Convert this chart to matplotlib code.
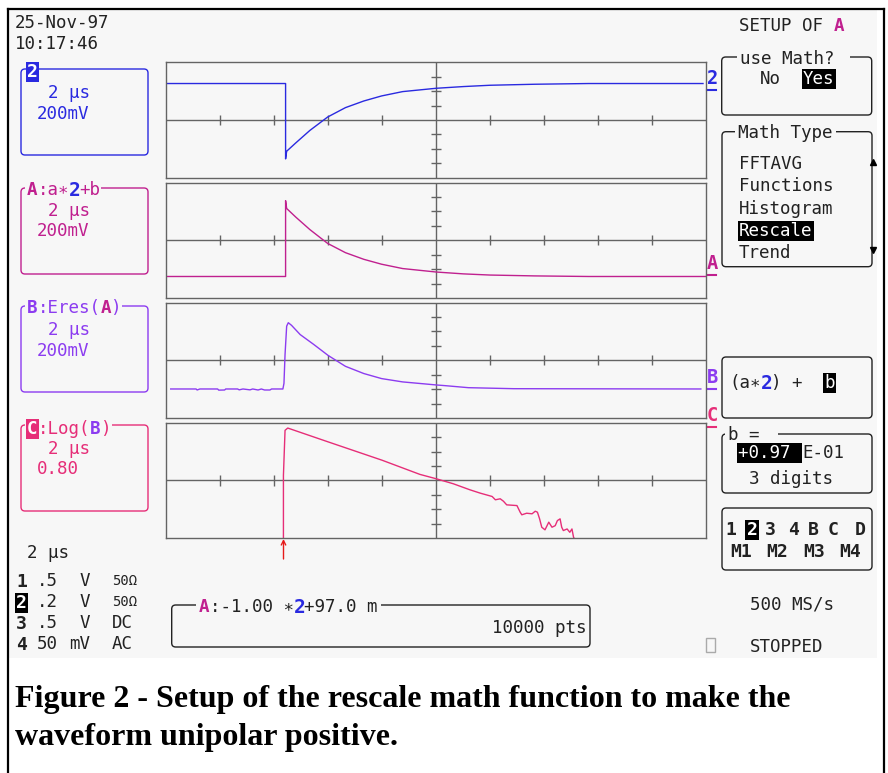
import matplotlib
matplotlib.use("Agg")
import matplotlib.pyplot as plt
from matplotlib.patches import FancyBboxPatch, Rectangle

# screen readings, x in time divisions (2 us/div), y in screen divisions
ch2_t = [0, 2.21, 2.21, 2.23, 2.40, 2.66, 2.99, 3.32, 3.66, 3.99, 4.38, 5.0,
         5.51, 6.0, 6.83, 7.83, 9.95]
ch2_v = [2.53, 2.53, -2.69, -2.16, -1.58, -0.72, 0.21, 0.86, 1.32, 1.67, 1.97,
         2.20, 2.32, 2.41, 2.48, 2.53, 2.53]

mathA_t = [0, 2.21, 2.21, 2.23, 2.40, 2.66, 2.99, 3.32, 3.66, 3.99, 4.38, 5.0,
           5.51, 6.0, 6.83, 7.83, 10.0]
mathA_v = [-2.51, -2.51, 2.74, 2.20, 1.60, 0.74, -0.22, -0.86, -1.32, -1.66,
           -1.96, -2.20, -2.33, -2.41, -2.47, -2.51, -2.51]

mathB_t = [0.08, 0.55, 0.57, 0.62, 0.95, 0.97, 1.08, 1.10, 1.32, 1.35, 1.42,
           1.55, 1.60, 1.70, 1.76, 1.82, 1.92, 1.95, 2.16, 2.18, 2.20, 2.23,
           2.26, 2.32, 2.48, 2.73, 3.0, 3.32, 3.66, 3.99, 4.38, 5.0, 5.17,
           5.6, 6.44, 9.91]
mathB_v = [-1.99, -1.99, -2.06, -1.99, -1.99, -2.07, -2.06, -1.99, -1.99,
           -2.05, -1.99, -2.05, -1.99, -2.06, -1.99, -2.06, -2.06, -1.99,
           -1.99, -1.60, 0.40, 2.36, 2.60, 2.42, 1.78, 1.10, 0.33, -0.42,
           -0.92, -1.27, -1.50, -1.71, -1.76, -1.90, -1.97, -1.99]

mathC_t = [2.17, 2.17, 2.20, 2.25, 3.0, 4.0, 4.70, 5.0, 5.32, 5.63, 5.82, 6.04,
           6.10, 6.19, 6.25, 6.31, 6.50, 6.56, 6.59, 6.68, 6.78, 6.84, 6.88,
           6.92, 6.96, 7.02, 7.09, 7.15, 7.21, 7.25, 7.30, 7.33, 7.36, 7.43,
           7.48, 7.52, 7.55, 7.56]
mathC_v = [-4.0, 0.35, 3.47, 3.63, 2.67, 1.40, 0.42, 0.12, -0.23, -0.65, -0.88,
           -1.11, -1.34, -1.27, -1.44, -1.69, -1.74, -2.20, -2.38, -2.27, -2.31,
           -2.13, -2.20, -2.66, -3.24, -3.42, -2.89, -3.24, -3.13, -2.78, -2.66,
           -3.24, -3.47, -3.36, -3.59, -3.36, -3.94, -4.0]

menu_items = ["FFTAVG", "Functions", "Histogram", "Rescale", "Trend"]
chan_rows = [("1", ".5", "V", "50Ω"), ("2", ".2", "V", "50Ω"),
             ("3", ".5", "V", "DC"), ("4", "50", "mV", "AC")]
caption = ["Figure 2 - Setup of the rescale math function to make the",
           "waveform unipolar positive."]

W, H = 888, 773
MONO = ["DejaVu Sans Mono", "DejaVu Sans"]
FS = 12.6
BG = "#f7f7f7"
GRID = "#646464"
BLUE = "#2a2ae0"
MAG = "#c0208f"
PUR = "#8c3cf0"
CRI = "#e62e78"
RED = "#e61a1a"
INK = "#222222"

fig = plt.figure(figsize=(8.88, 7.73), dpi=100)
ax0 = fig.add_axes([0, 0, 1, 1])
ax0.set_xlim(0, W)
ax0.set_ylim(H, 0)
ax0.axis("off")

# screen area and outer frame
ax0.add_patch(Rectangle((9, 9.5), 868, 648.5, fc=BG, ec="none", zorder=0))
ax0.plot([7.5, 7.5], [8.5, H], color="black", lw=1.6)
ax0.plot([883.5, 883.5], [8.5, H], color="black", lw=1.6)
ax0.plot([7.5, 883.5], [8.5, 8.5], color="black", lw=1.6)


def put(x, y, s, color=INK, size=FS, weight="normal", ha="left", bg=None):
    # y is the middle of the capitals, turned into a baseline
    base = y + 0.365 * size * 100 / 72
    kw = {}
    if bg:
        kw["bbox"] = dict(facecolor=bg, edgecolor="none", pad=0.8)
    ax0.text(x, base, s, color=color, fontsize=size, fontweight=weight,
             family=MONO, ha=ha, va="baseline", zorder=5, **kw)


def box(x0, y0, x1, y1, color=INK, gap=None):
    ax0.add_patch(FancyBboxPatch((x0, y0), x1 - x0, y1 - y0,
                                 boxstyle="round,pad=0,rounding_size=4",
                                 fill=False, ec=color, lw=1.0, zorder=2))
    if gap:
        ax0.add_patch(Rectangle((gap[0], y0 - 3), gap[1] - gap[0], 6,
                                fc=BG, ec="none", zorder=3))


def scope_panel(top):
    ax = fig.add_axes([166.4 / W, 1 - (top + 115.5) / H, 539.3 / W, 115.5 / H])
    ax.set_xlim(0, 10)
    ax.set_ylim(-4, 4)
    ax.set_facecolor("none")
    ax.set_xticks([])
    ax.set_yticks([])
    for s in ax.spines.values():
        s.set_color(GRID)
        s.set_linewidth(1.0)
    ax.axhline(0, color=GRID, lw=1.0)
    ax.axvline(5, color=GRID, lw=1.0)
    ax.vlines([1, 2, 3, 4, 6, 7, 8, 9], -0.35, 0.35, color=GRID, lw=1.0)
    ax.hlines([-3, -2, -1, 1, 2, 3], 4.9, 5.1, color=GRID, lw=1.0)
    return ax


ax1 = scope_panel(62.3)
ax1.plot(ch2_t, ch2_v, color=BLUE, lw=1.0)
ax2 = scope_panel(182.5)
ax2.plot(mathA_t, mathA_v, color=MAG, lw=1.0)
ax3 = scope_panel(302.5)
ax3.plot(mathB_t, mathB_v, color=PUR, lw=1.0)
ax4 = scope_panel(422.7)
ax4.plot(mathC_t, mathC_v, color=CRI, lw=1.0)

# trace markers at the right edge
for lab, col, yc, yu in [("2", BLUE, 77, 90), ("A", MAG, 262, 275),
                         ("B", PUR, 376, 389), ("C", CRI, 414, 427)]:
    put(707, yc, lab, color=col, size=13.5, weight="bold")
    ax0.plot([707, 716], [yu, yu], color=col, lw=1.5)

ax0.annotate("", xy=(283.5, 539), xytext=(283.5, 559),
             arrowprops=dict(arrowstyle="->", color=RED, lw=1.0,
                             shrinkA=0, shrinkB=0, mutation_scale=8))

# left column
put(15, 21.7, "25-Nov-97")
put(15, 43, "10:17:46")

box(21, 69, 148, 155, BLUE)
put(27, 70, "2", color="white", size=13, weight="bold", bg=BLUE)
put(48, 92, "2 μs", BLUE)
put(37, 113, "200mV", BLUE)

box(21, 188, 148, 274, MAG, gap=(25, 101))
put(27, 189, "A", MAG, weight="bold")
put(37.5, 189, ":a∗", MAG)
put(69, 189, "2", BLUE, size=14, weight="bold")
put(79.5, 189, "+b", MAG)
put(48, 210, "2 μs", MAG)
put(37, 230, "200mV", MAG)

box(21, 306, 148, 392, PUR, gap=(25, 122))
put(27, 307, "B", PUR, weight="bold")
put(37.5, 307, ":Eres(", PUR)
put(100.5, 307, "A", MAG, weight="bold")
put(111, 307, ")", PUR)
put(48, 329, "2 μs", PUR)
put(37, 350, "200mV", PUR)

box(21, 425, 148, 511, CRI, gap=(25, 112))
put(27, 428, "C", "white", weight="bold", bg=CRI)
put(37.5, 428, ":Log(", CRI)
put(90, 428, "B", PUR, weight="bold")
put(100.5, 428, ")", CRI)
put(48, 448, "2 μs", CRI)
put(37, 468, "0.80", CRI)

put(27, 552, "2 μs")
for i, (num, val, unit, cpl) in enumerate(chan_rows):
    y = 580 + i * 21
    if num == "2":
        put(16, y, num, "white", size=13, weight="bold", bg="black")
    else:
        put(16, y, num, size=13, weight="bold")
    put(37, y, val)
    put(90 - 10.5 * len(unit), y, unit)
    put(112, y, cpl, size=10 if "Ω" in cpl else FS)

# bottom status box
box(171.7, 605, 590, 647, gap=(196, 381))
put(199, 606, "A", MAG, weight="bold")
put(209.5, 606, ":-1.00 ∗")
put(293.5, 606, "2", BLUE, size=14, weight="bold")
put(304, 606, "+97.0 m")
put(586, 627, "10000 pts", ha="right")

# right menu
put(739, 25, "SETUP OF")
put(833.5, 25, "A", MAG, weight="bold")

box(721.7, 57, 871.7, 115, gap=(737, 850))
put(740, 58, "use Math?")
put(760, 78, "No")
put(803, 78, "Yes", "white", bg="black")

box(722, 131.7, 872, 266.7, gap=(735, 836))
put(738, 132, "Math Type")
for i, item in enumerate(menu_items):
    y = 162.5 + i * 22.4
    if item == "Rescale":
        put(739, y, item, "white", bg="black")
    else:
        put(739, y, item)
ax0.plot(873, 162, marker="^", ms=5, color="black", ls="none")
ax0.plot(873, 250, marker="v", ms=5, color="black", ls="none")

box(722, 357, 872, 418)
put(729, 382, "(a∗")
put(760.5, 382, "2", BLUE, size=14, weight="bold")
put(771, 382, ") +")
put(824, 382, "b", "white", bg="black")

box(722, 434, 872, 493, gap=(725, 778))
put(728, 434, "b =")
put(738, 452, "+0.97 ", "white", bg="black")
put(802, 452, "E-01")
put(749, 478, "3 digits")

box(722, 508, 872, 570)
for lab, xc in zip(["1", "2", "3", "4", "B", "C", "D"],
                   [731, 752, 770, 793, 813, 833, 860]):
    if lab == "2":
        put(xc, 528, lab, "white", size=13, weight="bold", ha="center", bg="black")
    else:
        put(xc, 528, lab, size=13, weight="bold", ha="center")
for lab, xc in zip(["M1", "M2", "M3", "M4"], [741, 777, 814, 850]):
    put(xc, 550, lab, size=13, weight="bold", ha="center")

put(750, 603, "500 MS/s")
ax0.add_patch(Rectangle((706, 638), 9, 14, fill=False, ec="#aaaaaa", lw=1.0))
put(750, 646, "STOPPED")

# caption below the screen
for i, line in enumerate(caption):
    ax0.text(15, 707 + i * 38, line, family=["Liberation Serif", "DejaVu Serif"],
             fontweight="bold", fontsize=23, va="baseline", color="black")

fig.savefig("out.png", dpi=100)
